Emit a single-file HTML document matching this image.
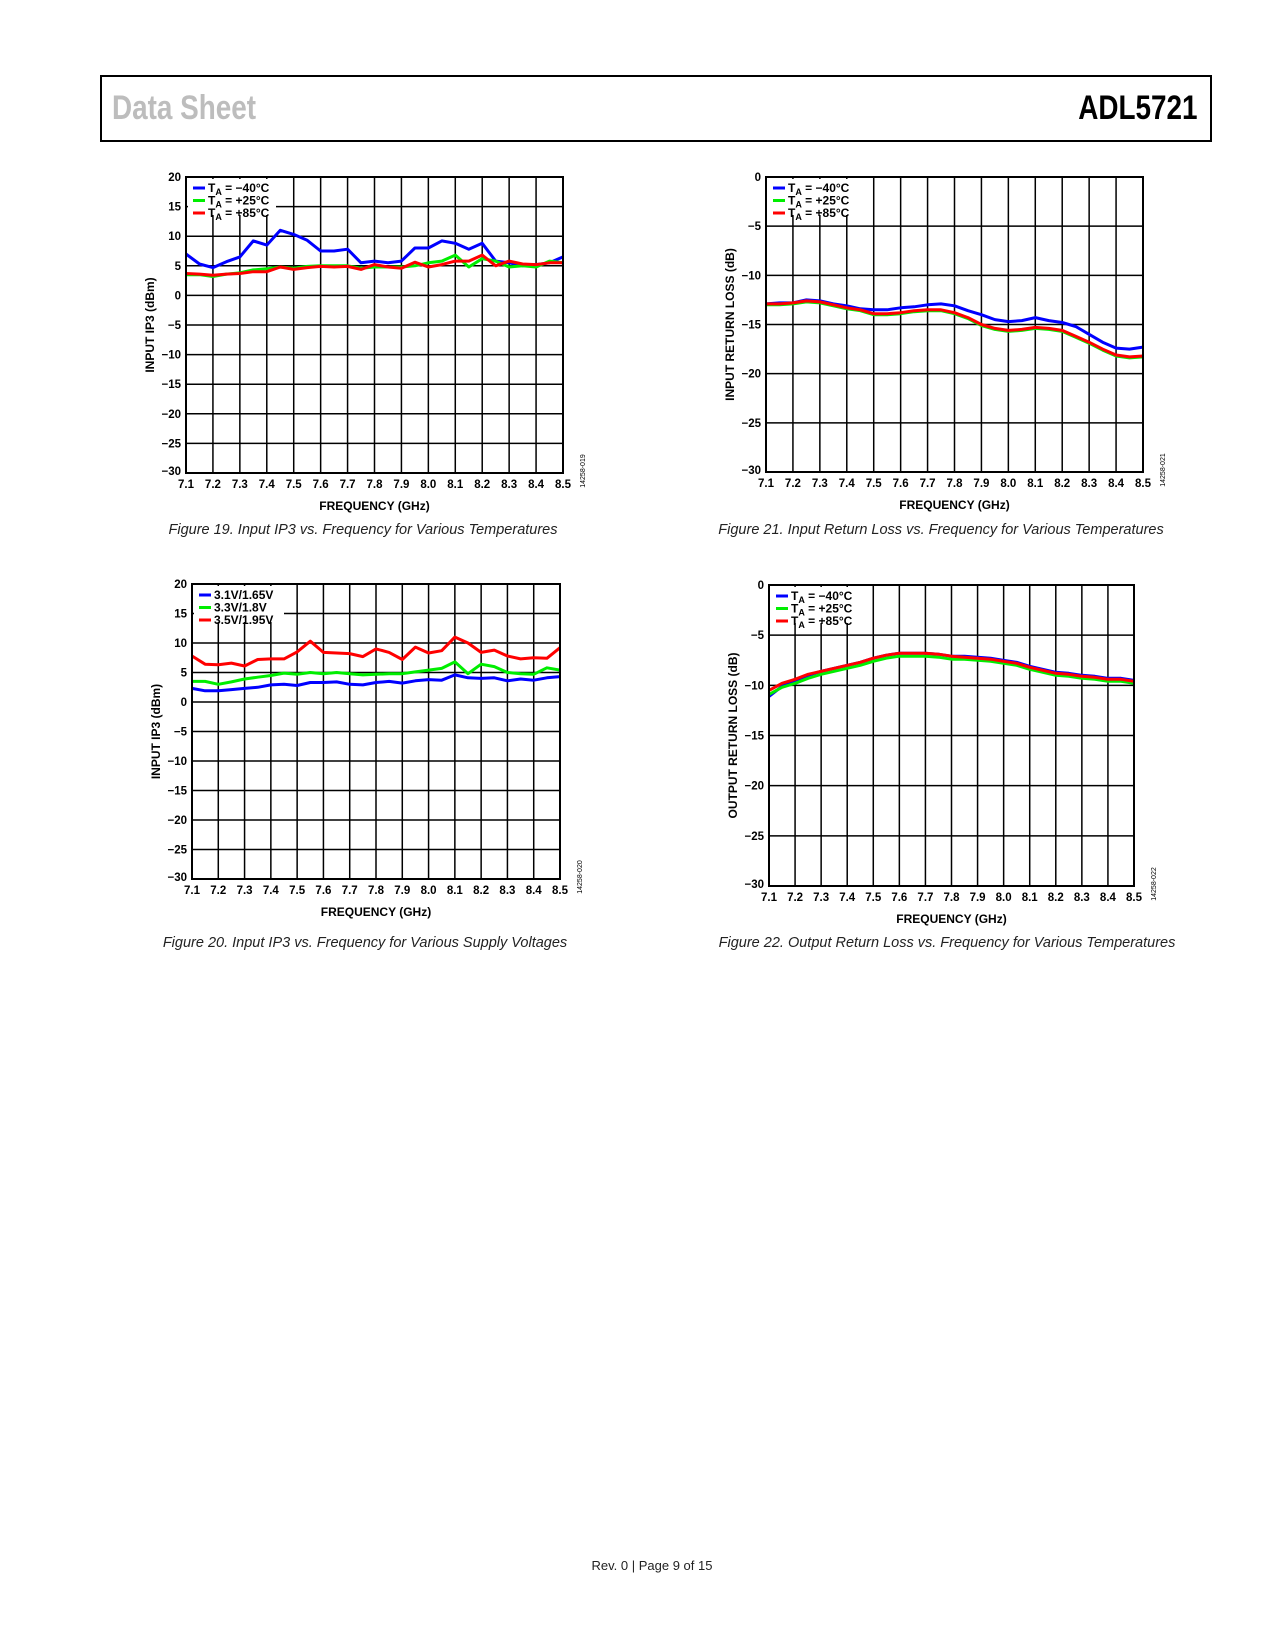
<!DOCTYPE html>
<html><head><meta charset="utf-8">
<style>
body{margin:0;background:#fff;width:1275px;height:1650px;position:relative;overflow:hidden;font-family:"Liberation Sans",sans-serif}
.hdr{position:absolute;left:100px;top:75px;width:1112px;height:67px;border:2px solid #000;box-sizing:border-box}
.ds{position:absolute;left:10px;top:12px;font-size:34px;font-weight:bold;color:#bdbdbd;transform:scaleX(0.82);transform-origin:left}
.pn{position:absolute;right:12px;top:12px;font-size:34px;font-weight:bold;color:#000;transform:scaleX(0.82);transform-origin:right}
.cap{position:absolute;font-size:14.5px;font-style:italic;color:#222;white-space:nowrap;transform:translateX(-50%)}
.foot{position:absolute;top:1558px;left:652px;transform:translateX(-50%);font-size:13px;color:#222}
svg{position:absolute;left:0;top:0}
</style></head><body>
<div class="hdr">
<div class="ds">Data Sheet</div>
<div class="pn">ADL5721</div>
</div>
<div class="cap" style="left:363px;top:522px">Figure 19. Input IP3 vs. Frequency for Various Temperatures</div>
<div class="cap" style="left:941px;top:522px">Figure 21. Input Return Loss vs. Frequency for Various Temperatures</div>
<div class="cap" style="left:365px;top:935px">Figure 20. Input IP3 vs. Frequency for Various Supply Voltages</div>
<div class="cap" style="left:947px;top:935px">Figure 22. Output Return Loss vs. Frequency for Various Temperatures</div>
<div class="foot">Rev. 0 | Page 9 of 15</div>
<svg id="svg" width="1275" height="1650" xmlns="http://www.w3.org/2000/svg"></svg>
<script>
const freqs=[7.1,7.15,7.2,7.25,7.3,7.35,7.4,7.45,7.5,7.55,7.6,7.65,7.7,7.75,7.8,7.85,7.9,7.95,8.0,8.05,8.1,8.15,8.2,8.25,8.3,8.35,8.4,8.45,8.5];
const xTicks=["7.1","7.2","7.3","7.4","7.5","7.6","7.7","7.8","7.9","8.0","8.1","8.2","8.3","8.4","8.5"];
const ipTicks=["20","15","10","5","0","−5","−10","−15","−20","−25","−30"];
const rlTicks=["0","−5","−10","−15","−20","−25","−30"];
const tempLabels=["−40°C","+25°C","+85°C"];
const voltLabels=["3.1V/1.65V","3.3V/1.8V","3.5V/1.95V"];
const f19Blue=[7,5.3,4.7,5.7,6.5,9.2,8.5,11,10.3,9.3,7.5,7.5,7.8,5.5,5.8,5.5,5.8,8,8,9.2,8.8,7.8,8.8,5.8,5.5,5,5.2,5.5,6.5];
const f19Green=[3.5,3.5,3.2,3.6,3.8,4.3,4.5,4.8,4.6,4.9,5,5,5,4.6,4.8,4.8,4.8,5,5.5,5.8,6.8,4.8,6.2,5.8,4.8,5,4.8,5.8,5.5];
const f19Red=[3.7,3.6,3.4,3.6,3.7,4,4,4.8,4.4,4.7,4.9,4.8,4.9,4.4,5.2,4.8,4.6,5.6,4.8,5.2,5.8,5.8,6.8,5,5.8,5.3,5.2,5.5,5.5];
const f20Blue=[2.3,1.9,1.9,2.1,2.3,2.5,2.9,3,2.8,3.3,3.3,3.4,3.0,2.9,3.3,3.5,3.2,3.6,3.8,3.7,4.6,4.1,4.0,4.1,3.6,3.9,3.7,4.1,4.3];
const f20Green=[3.5,3.5,3.0,3.4,3.9,4.2,4.5,4.9,4.7,5,4.8,5,4.8,4.6,4.7,4.8,4.8,5.1,5.4,5.7,6.8,4.8,6.4,6,5,4.8,4.7,5.8,5.4];
const f20Red=[7.8,6.4,6.3,6.6,6.1,7.2,7.3,7.3,8.5,10.3,8.4,8.3,8.2,7.7,9,8.4,7.2,9.3,8.3,8.7,11,10,8.4,8.8,7.8,7.3,7.5,7.4,9.2];
const f21Blue=[-12.9,-12.8,-12.8,-12.5,-12.6,-12.9,-13.1,-13.4,-13.5,-13.5,-13.3,-13.2,-13,-12.9,-13.1,-13.6,-14,-14.5,-14.7,-14.6,-14.3,-14.6,-14.8,-15.2,-16,-16.8,-17.4,-17.5,-17.3];
const f21Green=[-13,-13,-12.9,-12.7,-12.8,-13.1,-13.4,-13.6,-14,-14,-13.9,-13.7,-13.6,-13.6,-13.9,-14.4,-15.1,-15.5,-15.7,-15.6,-15.4,-15.5,-15.7,-16.3,-16.9,-17.6,-18.2,-18.4,-18.3];
const f21Red=[-12.9,-12.9,-12.8,-12.6,-12.7,-13,-13.3,-13.5,-13.9,-13.9,-13.8,-13.6,-13.5,-13.5,-13.8,-14.3,-15,-15.4,-15.6,-15.5,-15.3,-15.4,-15.6,-16.2,-16.8,-17.5,-18.1,-18.3,-18.2];
const f22Blue=[-11.1,-10.1,-9.5,-9.0,-8.6,-8.3,-8.0,-7.7,-7.3,-7.0,-6.8,-6.8,-6.8,-6.9,-7.1,-7.1,-7.2,-7.3,-7.5,-7.7,-8.1,-8.4,-8.7,-8.8,-9.0,-9.1,-9.3,-9.3,-9.5];
const f22Green=[-10.9,-10.2,-9.8,-9.3,-8.9,-8.6,-8.3,-8.0,-7.6,-7.3,-7.1,-7.1,-7.1,-7.2,-7.4,-7.4,-7.5,-7.6,-7.8,-8.0,-8.4,-8.7,-9.0,-9.1,-9.3,-9.4,-9.6,-9.6,-9.8];
const f22Red=[-10.5,-9.8,-9.4,-8.9,-8.6,-8.3,-8.0,-7.7,-7.3,-7.0,-6.8,-6.8,-6.8,-6.9,-7.1,-7.2,-7.3,-7.4,-7.6,-7.8,-8.2,-8.5,-8.8,-8.9,-9.1,-9.2,-9.4,-9.4,-9.6];

const svg=document.getElementById('svg');
const NS='http://www.w3.org/2000/svg';
function mk(tag,attrs,parent){const e=document.createElementNS(NS,tag);for(const k in attrs)e.setAttribute(k,attrs[k]);(parent||svg).appendChild(e);return e;}
const colors=['#0000ff','#00ee00','#ff0000'];

function chart(name,box,ymax,ymin,yTicks,yTitle,series,labels,temp,code){
  const g=mk('g',{});
  
  
  const X=v=>box.l+(v-7.1)/(8.5-7.1)*(box.r-box.l);
  const Y=v=>box.t+(ymax-v)/(ymax-ymin)*(box.b-box.t);
  const step=(ymax-ymin)/(yTicks.length-1);
  xTicks.forEach((t,i)=>{const v=parseFloat(t);const x=X(v);
    const ln=mk('line',{x1:x,x2:x,y1:box.t,y2:box.b,stroke:'#000','stroke-width':1.5},g);
    
    
    const tx=mk('text',{x:x,y:box.b+15,'text-anchor':'middle','font-size':11.5,'font-weight':'bold','font-family':'Liberation Sans,sans-serif'},g);
    tx.textContent=t;
    
    
  });
  yTicks.forEach((t,i)=>{const v=ymax-i*step;const y=Y(v);
    const ln=mk('line',{x1:box.l,x2:box.r,y1:y,y2:y,stroke:'#000','stroke-width':1.5},g);
    
    
    const tx=mk('text',{x:box.l-5,y:y+(i==yTicks.length-1?2:4),'text-anchor':'end','font-size':11.5,'font-weight':'bold','font-family':'Liberation Sans,sans-serif'},g);
    tx.textContent=t;
    
    
  });
  const lg=mk('g',{},g);
  
  
  mk('rect',{x:box.l+2,y:box.t+2,width:temp?88:90,height:36,fill:'#fff'},lg);
  labels.forEach((lab,i)=>{const y=box.t+11+i*12.5;
    const e=mk('g',{},lg);
    
    
    mk('line',{x1:box.l+7,x2:box.l+19,y1:y,y2:y,stroke:colors[i],'stroke-width':3},e);
    const tx=mk('text',{x:box.l+22,y:y+4,'font-size':12,'font-weight':'bold','font-family':'Liberation Sans,sans-serif'},e);
    if(temp){tx.innerHTML='T<tspan font-size="9" dy="3">A</tspan><tspan dy="-3"> = '+lab+'</tspan>';}
    else tx.textContent=lab;
  });
  series.forEach((s,i)=>{
    const d=s.map((v,j)=>(j?'L':'M')+X(freqs[j]).toFixed(1)+','+Y(v).toFixed(1)).join(' ');
    const p=mk('path',{d:d,fill:'none',stroke:colors[i],'stroke-width':3,'stroke-linejoin':'round'},g);
    
    
  });
  mk('rect',{x:box.l,y:box.t,width:box.r-box.l,height:box.b-box.t,fill:'none',stroke:'#000','stroke-width':2},g);
  const xt=mk('text',{x:(box.l+box.r)/2,y:box.b+37,'text-anchor':'middle','font-size':12,'font-weight':'bold','font-family':'Liberation Sans,sans-serif'},g);
  xt.textContent='FREQUENCY (GHz)';
  
  
  const cy=(box.t+box.b)/2;
  const yt=mk('text',{x:box.l-32,y:cy,'text-anchor':'middle','font-size':12,'font-weight':'bold','font-family':'Liberation Sans,sans-serif',transform:'rotate(-90 '+(box.l-32)+' '+cy+')'},g);
  yt.textContent=yTitle;
  
  
  const cx=box.r+22, cyy=box.b-2;
  const ct=mk('text',{x:cx,y:cyy,'text-anchor':'middle','font-size':7,'font-family':'Liberation Sans,sans-serif',transform:'rotate(-90 '+cx+' '+cyy+')'},g);
  ct.textContent=code;
  
  
}
chart('figure-19-chart',{l:186,r:563,t:177,b:473},20,-30,ipTicks,'INPUT IP3 (dBm)',[f19Blue,f19Green,f19Red],tempLabels,true,'14258-019');
chart('figure-21-chart',{l:766,r:1143,t:177,b:472},0,-30,rlTicks,'INPUT RETURN LOSS (dB)',[f21Blue,f21Green,f21Red],tempLabels,true,'14258-021');
chart('figure-20-chart',{l:192,r:560,t:584,b:879},20,-30,ipTicks,'INPUT IP3 (dBm)',[f20Blue,f20Green,f20Red],voltLabels,false,'14258-020');
chart('figure-22-chart',{l:769,r:1134,t:585,b:886},0,-30,rlTicks,'OUTPUT RETURN LOSS (dB)',[f22Blue,f22Green,f22Red],tempLabels,true,'14258-022');
</script>
</body></html>
